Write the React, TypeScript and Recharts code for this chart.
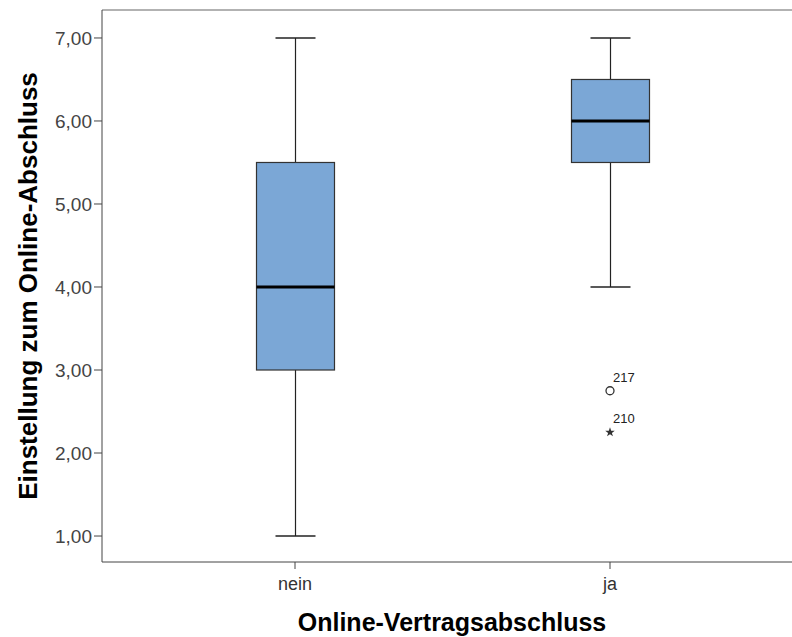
import React from "react";
import {
  ComposedChart,
  Bar,
  Scatter,
  XAxis,
  YAxis,
  ReferenceLine,
  Label,
} from "recharts";

// Boxplot values
const categories = ["nein", "ja"];
const minima = [1, 4];
const lowerQuartiles = [3, 5.5];
const medians = [4, 6];
const upperQuartiles = [5.5, 6.5];
const maxima = [7, 7];

const outlierGroups = ["ja", "ja"];
const outlierValues = [2.75, 2.25];
const outlierCases = ["217", "210"];
const outlierKinds = ["circle", "star"];

const yTicks = [1, 2, 3, 4, 5, 6, 7];
const yTop = 7.337;

const data = categories.map((name, i) => ({
  name,
  range: [minima[i], maxima[i]],
  min: minima[i],
  q1: lowerQuartiles[i],
  median: medians[i],
  q3: upperQuartiles[i],
  max: maxima[i],
}));

const outliers = outlierGroups.map((name, i) => ({
  name,
  value: outlierValues[i],
  label: outlierCases[i],
  kind: outlierKinds[i],
}));

const font = "'Liberation Sans', Arial, sans-serif";

// the bar spans min..max, so its pixel box gives the linear y mapping
function BoxShape(props: any) {
  const { x, y, width, height, payload } = props;
  const top = Math.min(y, y + height);
  const h = Math.abs(height);
  const span = payload.max - payload.min;
  const py = (v: number) => top + ((payload.max - v) / span) * h;
  const cx = x + width / 2;
  const cap = 20;
  return (
    <g>
      <line x1={cx} x2={cx} y1={py(payload.max)} y2={py(payload.q3)} stroke="#222" strokeWidth={1.2} />
      <line x1={cx} x2={cx} y1={py(payload.q1)} y2={py(payload.min)} stroke="#222" strokeWidth={1.2} />
      <line x1={cx - cap} x2={cx + cap} y1={py(payload.max)} y2={py(payload.max)} stroke="#222" strokeWidth={1.5} />
      <line x1={cx - cap} x2={cx + cap} y1={py(payload.min)} y2={py(payload.min)} stroke="#222" strokeWidth={1.5} />
      <rect x={x} y={py(payload.q3)} width={width} height={py(payload.q1) - py(payload.q3)} fill="#7ba7d6" stroke="#333" strokeWidth={1.2} />
      <line x1={x} x2={x + width} y1={py(payload.median)} y2={py(payload.median)} stroke="#000" strokeWidth={3} />
    </g>
  );
}

function OutlierShape(props: any) {
  const { cx, cy, payload } = props;
  let mark;
  if (payload.kind === "circle") {
    mark = <circle cx={cx} cy={cy} r={4} fill="#fff" stroke="#333" strokeWidth={1.3} />;
  } else {
    const pts = [];
    for (let k = 0; k < 10; k++) {
      const r = k % 2 === 0 ? 5 : 2;
      const a = -Math.PI / 2 + (k * Math.PI) / 5;
      pts.push(`${cx + r * Math.cos(a)},${cy + r * Math.sin(a)}`);
    }
    mark = <polygon points={pts.join(" ")} fill="#333" />;
  }
  return (
    <g>
      {mark}
      <text x={cx + 3} y={cy - 9} fontSize={13} fontFamily={font} fill="#222">
        {payload.label}
      </text>
    </g>
  );
}

export default function App() {
  return (
    <div style={{ position: "absolute", left: 0, top: 0, width: 792, height: 637, overflow: "hidden", background: "#fff" }}>
      <ComposedChart width={800} height={637} data={data} margin={{ top: 10, right: 0, left: 0, bottom: 0 }}>
        <XAxis
          dataKey="name"
          type="category"
          allowDuplicatedCategory={false}
          padding={{ left: 35.5, right: 32.5 }}
          height={75}
          stroke="#444"
          tickSize={7}
          tickMargin={8}
          tick={{ fill: "#333", fontSize: 18, fontFamily: font }}
        >
          <Label value="Online-Vertragsabschluss" position="insideBottom" offset={6} dx={1}
            style={{ fontSize: 25, fontWeight: "bold", fontFamily: font, fill: "#000" }} />
        </XAxis>
        <YAxis
          type="number"
          domain={[0.687, yTop]}
          ticks={yTicks}
          allowDataOverflow
          width={102}
          stroke="#444"
          tickSize={8}
          tickMargin={2}
          tickFormatter={(v: number) => v.toFixed(2).replace(".", ",")}
          tick={{ fill: "#444", fontSize: 19, fontFamily: font }}
        >
          <Label value="Einstellung zum Online-Abschluss" angle={-90} position="center" dx={-23}
            style={{ fontSize: 26, fontWeight: "bold", fontFamily: font, fill: "#000", textAnchor: "middle" }} />
        </YAxis>
        <ReferenceLine y={yTop} stroke="#999" strokeWidth={1.5} />
        <Bar dataKey="range" barSize={78} shape={BoxShape} isAnimationActive={false} />
        <Scatter data={outliers} dataKey="value" shape={OutlierShape} isAnimationActive={false} />
      </ComposedChart>
    </div>
  );
}
